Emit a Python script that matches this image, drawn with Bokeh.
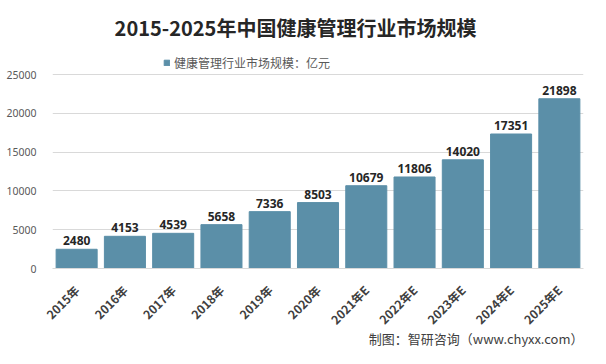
import math
from bokeh.plotting import figure
from bokeh.models import (ColumnDataSource, FactorRange, Label, Legend, LegendItem,
                          LabelSet, NumeralTickFormatter, Title)
from bokeh.core.properties import value
from bokeh.embed import file_html
from bokeh.resources import INLINE

categories = ["2015年", "2016年", "2017年", "2018年", "2019年", "2020年",
              "2021年E", "2022年E", "2023年E", "2024年E", "2025年E"]
values = [2480, 4153, 4539, 5658, 7336, 8503, 10679, 11806, 14020, 17351, 21898]
y_ticks = [0, 5000, 10000, 15000, 20000, 25000]
title_text = "2015-2025年中国健康管理行业市场规模"
series_name = "健康管理行业市场规模：亿元"
source_text = "制图：智研咨询（www.chyxx.com）"

CJK = "Noto Sans CJK SC"
NUM = "Noto Sans"
BAR = "#5b8fa8"

# frame spans from the top of the figure down to the x axis; 25000 sits 72px below the top
FRAME_H = 260
Y_TOP = 25000 * FRAME_H / 188.0

src = ColumnDataSource(dict(cat=categories, val=values, lab=[str(v) for v in values]))

p = figure(width=590, height=348, output_backend="svg", toolbar_location=None, title=None,
           x_range=FactorRange(*categories, range_padding=0), y_range=(0, Y_TOP),
           min_border_left=52, min_border_right=7, min_border_top=0, min_border_bottom=80,
           background_fill_color="white", border_fill_color="white")
p.outline_line_color = None

r = p.vbar(x="cat", top="val", width=0.85, source=src, fill_color=BAR, line_color=BAR)

labels = LabelSet(x="cat", y="val", text="lab", source=src, text_align="center",
                  text_baseline="bottom", y_offset=4, text_font=value(NUM),
                  text_font_size="12px", text_font_style="bold", text_color="#262626")
p.add_layout(labels)

p.yaxis.ticker = y_ticks
p.yaxis.formatter = NumeralTickFormatter(format="0")
p.yaxis.axis_line_color = None
p.yaxis.major_tick_line_color = None
p.yaxis.minor_tick_line_color = None
p.yaxis.major_label_text_font = NUM
p.yaxis.major_label_text_font_size = "10.5px"
p.yaxis.major_label_text_color = "#595959"
p.yaxis.major_label_standoff = 10

p.xaxis.axis_line_color = "#d9d9d9"
p.xaxis.major_tick_line_color = None
p.xaxis.minor_tick_line_color = None
p.xaxis.major_label_orientation = math.pi / 4
p.xaxis.major_label_text_font = CJK
p.xaxis.major_label_text_font_size = "12px"
p.xaxis.major_label_text_font_style = "bold"
p.xaxis.major_label_text_color = "#404040"
p.xaxis.major_label_standoff = 13

p.xgrid.grid_line_color = None
p.ygrid.grid_line_color = "#d9d9d9"

legend = Legend(items=[LegendItem(label=series_name, renderers=[r])],
                location=(111, FRAME_H - 63), orientation="horizontal",
                glyph_width=7, glyph_height=7, label_height=14, label_text_font=CJK,
                label_text_font_size="12px", label_text_color="#595959",
                border_line_color=None, background_fill_alpha=0, padding=0, margin=0,
                label_standoff=4)
p.add_layout(legend, "center")

p.add_layout(Label(x=243, y=FRAME_H - 19, x_units="screen", y_units="screen", text=title_text,
                   text_align="center", text_baseline="middle", text_font=CJK,
                   text_font_size="20px", text_font_style="bold", text_color="#262626"))

footer = Title(text=source_text, align="right", text_font=CJK, text_font_size="13px",
               text_font_style="normal", text_color="#404040", standoff=-20)
p.add_layout(footer, "below")

open("out.html", "w").write(file_html(p, INLINE))
